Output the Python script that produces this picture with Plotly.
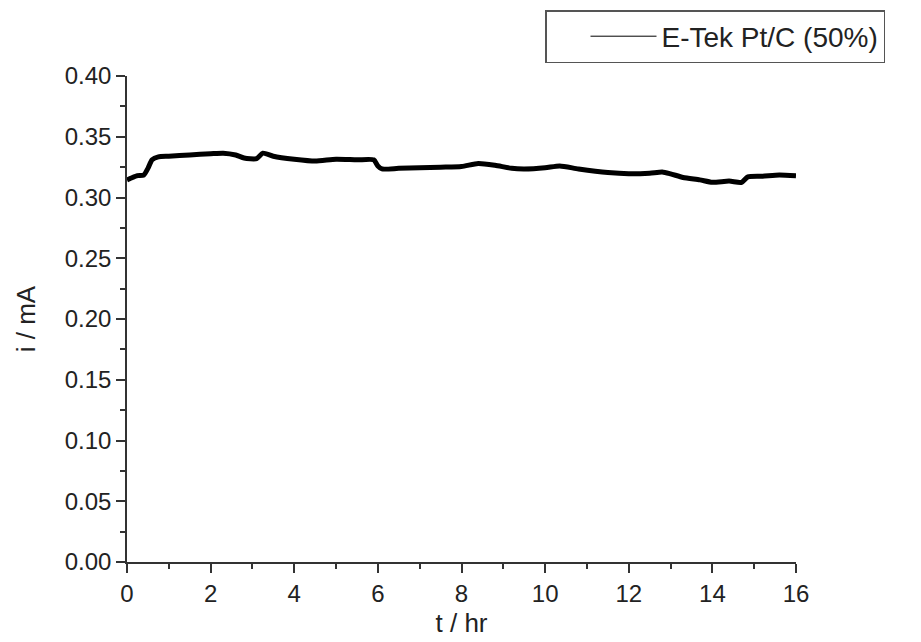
import plotly.graph_objects as go

t_hr = [0, 0.1, 0.25, 0.4, 0.5, 0.6, 0.75, 1.0, 1.5, 2.0, 2.3, 2.6, 2.8, 3.1, 3.25, 3.5,
        4.0, 4.5, 5.0, 5.5, 5.9, 6.0, 6.1, 6.5, 7.0, 7.5, 8.0, 8.4, 8.8, 9.2, 9.5, 10.0,
        10.35, 10.8, 11.5, 12.0, 12.5, 12.8, 13.0, 13.3, 13.7, 14.0, 14.4, 14.7, 14.85,
        15.2, 15.6, 16.0]
i_mA = [0.3145, 0.316, 0.318, 0.3185, 0.324, 0.331, 0.3335, 0.334, 0.335, 0.336, 0.3365,
        0.335, 0.3325, 0.332, 0.3365, 0.334, 0.3315, 0.3300, 0.3315, 0.3310, 0.331, 0.326,
        0.3235, 0.324, 0.3245, 0.325, 0.3255, 0.328, 0.3265, 0.324, 0.3235, 0.3245, 0.326,
        0.3235, 0.3205, 0.3195, 0.320, 0.321, 0.3195, 0.3165, 0.3145, 0.3125, 0.3135,
        0.3125, 0.3170, 0.3175, 0.3185, 0.3178]
series_name = "E-Tek Pt/C (50%)"
x_title = "t / hr"
y_title = "i / mA"

FONT = "Liberation Sans, Arial, sans-serif"
AX = "#333333"

fig = go.Figure()
# noisy data band drawn thick; legend entry uses a thin line like the original
fig.add_trace(go.Scatter(x=t_hr, y=i_mA, mode="lines", name=series_name, showlegend=False,
                         legendgroup="s",
                         line=dict(color="black", width=5, shape="spline", smoothing=0.6)))
fig.add_trace(go.Scatter(x=[None], y=[None], mode="lines", name=series_name,
                         legendgroup="s", line=dict(color="black", width=1)))

fig.update_layout(
    width=921, height=642,
    margin=dict(l=127, r=125, t=76, b=80, autoexpand=False),
    paper_bgcolor="white", plot_bgcolor="white",
    font=dict(family=FONT, color="#222222", size=24),
    showlegend=True,
    legend=dict(
        xref="container", yref="container",
        x=545 / 921, y=1 - 10 / 642, xanchor="left", yanchor="top",
        bordercolor="#555555", borderwidth=1.5, bgcolor="white",
        font=dict(family=FONT, size=28, color="#222222"),
        entrywidth=400, itemwidth=66, indentation=39,
    ),
)

fig.update_xaxes(
    range=[0, 16], dtick=2, tick0=0,
    showline=True, linecolor=AX, linewidth=1.5, mirror=False,
    ticks="outside", ticklen=9, tickwidth=1.5, tickcolor=AX,
    minor=dict(dtick=1, ticks="outside", ticklen=5, tickwidth=1.5, tickcolor=AX),
    showgrid=False, zeroline=False,
    tickfont=dict(size=24),
    title=dict(text=x_title, font=dict(size=26), standoff=8),
)
fig.update_yaxes(
    range=[0, 0.40], dtick=0.05, tick0=0, tickformat=".2f",
    showline=True, linecolor=AX, linewidth=1.5, mirror=False,
    ticks="outside", ticklen=9, tickwidth=1.5, tickcolor=AX,
    minor=dict(dtick=0.025, ticks="outside", ticklen=5, tickwidth=1.5, tickcolor=AX),
    showgrid=False, zeroline=False,
    tickfont=dict(size=24),
    title=dict(text=y_title, font=dict(size=26), standoff=22),
)

fig.write_html("out.html")
